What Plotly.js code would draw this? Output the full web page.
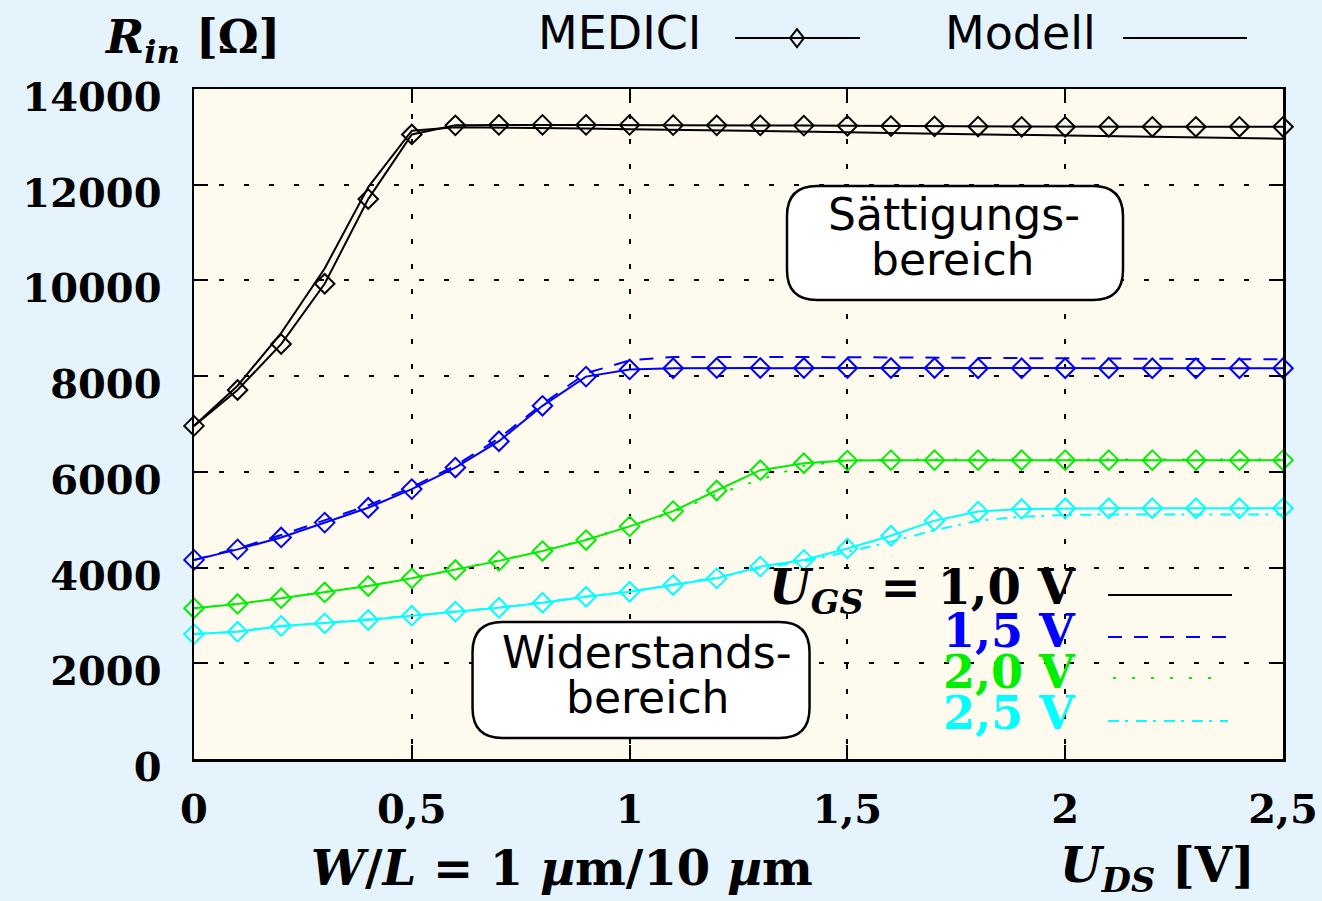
<!DOCTYPE html>
<html><head><meta charset="utf-8">
<script src="https://cdn.plot.ly/plotly-3.0.1.min.js"></script>
<style>html,body{margin:0;padding:0;background:#e5f3fc;} #chart{width:1322px;height:901px;}</style>
</head><body><div id="chart"></div>
<script>
// ---- data ----
const uds = [0,0.1,0.2,0.3,0.4,0.5,0.6,0.7,0.8,0.9,1.0,1.1,1.2,1.3,1.4,1.5,1.6,1.7,1.8,1.9,2.0,2.1,2.2,2.3,2.4,2.5];

const medici10 = [6960,7710,8670,9930,11700,13050,13240,13250,13250,13250,13250,13245,13240,13240,13235,13230,13225,13220,13215,13210,13210,13210,13210,13210,13210,13210];
const model10  = [6960,7800,8900,10250,11950,13130,13200,13195,13185,13175,13160,13150,13140,13125,13110,13095,13080,13065,13050,13035,13020,13005,12995,12980,12970,12960];

const medici15 = [4160,4380,4630,4940,5250,5640,6090,6640,7380,7990,8140,8165,8170,8170,8170,8170,8170,8170,8165,8165,8165,8165,8165,8165,8165,8165];
const model15  = [4160,4400,4680,4990,5300,5680,6130,6700,7420,8060,8330,8400,8405,8400,8400,8395,8390,8385,8380,8375,8370,8365,8360,8355,8350,8350];

const medici20 = [3150,3240,3360,3480,3615,3775,3950,4140,4345,4575,4860,5180,5610,6035,6180,6235,6245,6245,6245,6245,6245,6245,6245,6245,6245,6245];
const model20  = [3150,3240,3360,3490,3620,3780,3960,4150,4360,4590,4860,5160,5530,5840,6130,6235,6255,6260,6260,6260,6260,6260,6260,6260,6260,6260];

const medici25 = [2610,2660,2780,2835,2905,2995,3080,3160,3265,3390,3495,3635,3775,4020,4160,4400,4665,4980,5170,5225,5240,5240,5240,5240,5240,5240];
const model25  = [2610,2665,2770,2840,2910,2995,3080,3165,3270,3395,3500,3640,3790,3990,4130,4330,4540,4780,4980,5060,5100,5110,5110,5110,5110,5110];

const xTickVals = [0,0.5,1,1.5,2,2.5];
const xTickText = ['0','0,5','1','1,5','2','2,5'];
const yTickVals = [0,2000,4000,6000,8000,10000,12000,14000];
const yTickText = ['0','2000','4000','6000','8000','10000','12000','14000'];
const ugsLabels = ['1,0 V','1,5 V','2,0 V','2,5 V'];

// ---- styles ----
const mediciSeries = [medici10, medici15, medici20, medici25];
const modelSeries  = [model10, model15, model20, model25];
const colors = ['#000000','#0000ff','#00ee00','#00ffff'];
const dashes = ['solid','14px,12px','3px,16px','11px,6px,3px,8px'];

const traces = [];
for (let i = 0; i < 4; i++) {
  traces.push({x: uds, y: modelSeries[i], mode: 'lines', showlegend: false, hoverinfo: 'skip',
    line: {color: colors[i], width: 2, dash: dashes[i]}});
}
for (let i = 0; i < 4; i++) {
  traces.push({x: uds, y: mediciSeries[i], mode: 'lines+markers', showlegend: false, cliponaxis: false,
    line: {color: colors[i], width: 2},
    marker: {symbol: 'diamond-open', size: 15, color: colors[i], line: {color: colors[i], width: 2}}});
}

function rr(w, h, r) {
  const a = w/2, b = h/2;
  return `M ${-a+r},${-b} L ${a-r},${-b} Q ${a},${-b} ${a},${-b+r} L ${a},${b-r} Q ${a},${b} ${a-r},${b} ` +
         `L ${-a+r},${b} Q ${-a},${b} ${-a},${b-r} L ${-a},${-b+r} Q ${-a},${-b} ${-a+r},${-b} Z`;
}

const serif = 'DejaVu Serif';
const sans = 'DejaVu Sans';

const shapes = [
  {type:'path', xref:'paper', yref:'paper', xsizemode:'pixel', ysizemode:'pixel', xanchor:0.6988, yanchor:0.7701,
   path: rr(336,114,30), fillcolor:'#ffffff', line:{color:'#000', width:2.5}},
  {type:'path', xref:'paper', yref:'paper', xsizemode:'pixel', ysizemode:'pixel', xanchor:0.4105, yanchor:0.1179,
   path: rr(337,116,30), fillcolor:'#ffffff', line:{color:'#000', width:2.5}},
  // UGS legend samples
  {type:'line', xref:'paper', yref:'paper', x0:0.8393, x1:0.9532, y0:0.2448, y1:0.2448, line:{color:colors[0], width:2, dash:dashes[0]}},
  {type:'line', xref:'paper', yref:'paper', x0:0.8393, x1:0.9532, y0:0.1821, y1:0.1821, line:{color:colors[1], width:2, dash:dashes[1]}},
  {type:'line', xref:'paper', yref:'paper', x0:0.8439, x1:0.9394, y0:0.1209, y1:0.1209, line:{color:colors[2], width:2, dash:dashes[2]}},
  {type:'line', xref:'paper', yref:'paper', x0:0.8393, x1:0.9495, y0:0.0567, y1:0.0567, line:{color:colors[3], width:2, dash:dashes[3]}},
  // top legend samples
  {type:'line', xref:'paper', yref:'paper', x0:0.4968, x1:0.6116, y0:1.0761, y1:1.0761, line:{color:'#000', width:2}},
  {type:'path', xref:'paper', yref:'paper', xsizemode:'pixel', ysizemode:'pixel', xanchor:0.5537, yanchor:1.0761,
   path:'M -7,0 L 0,9 L 7,0 L 0,-9 Z', fillcolor:'rgba(0,0,0,0)', line:{color:'#000', width:2}},
  {type:'line', xref:'paper', yref:'paper', x0:0.8531, x1:0.9669, y0:1.0761, y1:1.0761, line:{color:'#000', width:2}}
];

function ann(text, x, y, font, opts) {
  return Object.assign({text, x, y, xref:'paper', yref:'paper', showarrow:false, xanchor:'center', yanchor:'middle', font}, opts || {});
}
const fSerif = (s, c) => ({family: serif, size: s, color: c || '#000'});
const fSans = (s) => ({family: sans, size: s, color: '#000'});

const annotations = [
  ann('<b><i>R</i><sub><i>in</i></sub> [Ω]</b>', -0.0018, 1.0731, fSerif(46)),
  ann('MEDICI', 0.3903, 1.0836, fSans(46)),
  ann('Modell', 0.7585, 1.0836, fSans(46)),
  ann('Sättigungs-', 0.6979, 0.8134, fSans(44)),
  ann('bereich', 0.6970, 0.7448, fSans(44)),
  ann('Widerstands-', 0.4160, 0.1597, fSans(44)),
  ann('bereich', 0.4169, 0.0925, fSans(44)),
  ann('<b><i>U</i><sub><i>GS</i></sub> = ' + ugsLabels[0] + '</b>', 0.8108, 0.2522, fSerif(48, colors[0]), {xanchor:'right', borderpad:0}),
  ann('<b>' + ugsLabels[1] + '</b>', 0.8108, 0.1910, fSerif(46, colors[1]), {xanchor:'right', borderpad:0}),
  ann('<b>' + ugsLabels[2] + '</b>', 0.8108, 0.1299, fSerif(46, colors[2]), {xanchor:'right', borderpad:0}),
  ann('<b>' + ugsLabels[3] + '</b>', 0.8108, 0.0687, fSerif(46, colors[3]), {xanchor:'right', borderpad:0}),
  ann('<b><i>W</i>/<i>L</i> = 1 <i>µ</i>m/10 <i>µ</i>m</b>', 0.3379, -0.1627, fSerif(48)),
  ann('<b><i>U</i><sub><i>DS</i></sub> [V]</b>', 0.8843, -0.1627, fSerif(48))
];

const axisCommon = {
  showline: true, linecolor: '#000', linewidth: 2.5, mirror: 'ticks',
  ticks: 'inside', ticklen: 14, tickwidth: 2, tickcolor: '#000',
  showgrid: true, gridcolor: '#000', gridwidth: 2, griddash: '5px,20px',
  zeroline: false, tickmode: 'array', automargin: false,
  tickfont: {family: serif, size: 40, color: '#000', weight: 'bold'}
};

const layout = {
  width: 1322, height: 901,
  margin: {l: 194, r: 39, t: 89, b: 142},
  paper_bgcolor: '#e5f3fc', plot_bgcolor: '#fefaee',
  showlegend: false,
  xaxis: Object.assign({}, axisCommon, {range: [0, 2.5], tickvals: xTickVals, ticktext: xTickText, ticklabelstandoff: 13}),
  yaxis: Object.assign({}, axisCommon, {range: [0, 14000], tickvals: yTickVals, ticktext: yTickText, ticklabelstandoff: 22, ticklabelshift: 8}),
  shapes, annotations
};

Plotly.newPlot('chart', traces, layout, {displayModeBar: false, staticPlot: true});
</script></body></html>
